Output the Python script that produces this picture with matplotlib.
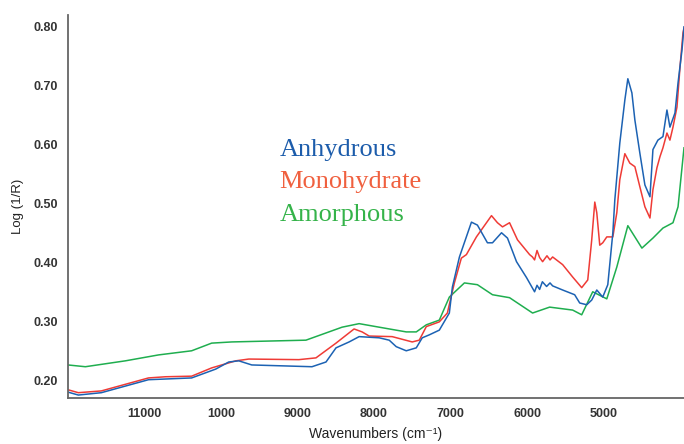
import matplotlib
matplotlib.use("Agg")
import matplotlib.pyplot as plt

# NIR spectra, wavenumber (cm-1) vs log(1/R)
amorph_wn = [12000, 11773, 11249, 10817, 10384, 10122, 9860, 8890, 8418, 8195,
             7933, 7579, 7448, 7317, 7147, 7016, 6819, 6649, 6452, 6229,
             5928, 5705, 5404, 5286, 5142, 4958, 4827, 4683, 4499, 4355,
             4224, 4093, 4027, 3949]
amorph_val = [0.227, 0.224, 0.234, 0.244, 0.251, 0.264, 0.266, 0.269, 0.291, 0.297,
              0.291, 0.283, 0.283, 0.295, 0.303, 0.342, 0.366, 0.363, 0.346, 0.341,
              0.315, 0.325, 0.320, 0.312, 0.351, 0.339, 0.393, 0.463, 0.425, 0.442,
              0.459, 0.468, 0.495, 0.595]

mono_wn = [12000, 11865, 11564, 10948, 10725, 10384, 10122, 9807, 9637, 8982,
           8759, 8497, 8261, 8156, 8064, 7763, 7501, 7409, 7317, 7147,
           7042, 6950, 6859, 6793, 6662, 6465, 6387, 6321, 6229, 6125,
           5967, 5930, 5902, 5870, 5836, 5797, 5740, 5700, 5666, 5535,
           5404, 5286, 5207, 5155, 5115, 5089, 5050, 5011, 4958, 4879,
           4827, 4788, 4722, 4657, 4591, 4526, 4460, 4394, 4355, 4303,
           4263, 4224, 4172, 4133, 4093, 4041, 4001, 3962, 3949]
mono_val = [0.185, 0.180, 0.183, 0.205, 0.207, 0.208, 0.222, 0.234, 0.237, 0.236,
            0.239, 0.264, 0.288, 0.283, 0.276, 0.275, 0.266, 0.269, 0.292, 0.300,
            0.315, 0.366, 0.408, 0.414, 0.444, 0.480, 0.468, 0.461, 0.468, 0.439,
            0.414, 0.410, 0.405, 0.421, 0.409, 0.402, 0.412, 0.405, 0.410, 0.397,
            0.376, 0.358, 0.371, 0.439, 0.503, 0.485, 0.430, 0.434, 0.444, 0.444,
            0.485, 0.541, 0.585, 0.569, 0.563, 0.529, 0.495, 0.476, 0.524, 0.561,
            0.580, 0.595, 0.620, 0.608, 0.630, 0.664, 0.732, 0.790, 0.798]

anhyd_wn = [12000, 11865, 11564, 10948, 10384, 10069, 9899, 9768, 9598, 9073,
            8811, 8628, 8497, 8326, 8195, 7933, 7802, 7710, 7579, 7448,
            7370, 7278, 7147, 7016, 6976, 6884, 6727, 6649, 6518, 6452,
            6334, 6256, 6138, 6007, 5902, 5870, 5836, 5800, 5745, 5700,
            5666, 5535, 5378, 5312, 5220, 5155, 5089, 5011, 4945, 4879,
            4853, 4788, 4722, 4683, 4630, 4591, 4526, 4460, 4394, 4355,
            4290, 4224, 4172, 4133, 4067, 4027, 3975, 3949]
anhyd_val = [0.181, 0.176, 0.180, 0.202, 0.205, 0.220, 0.232, 0.234, 0.227, 0.225,
             0.224, 0.232, 0.256, 0.266, 0.275, 0.273, 0.269, 0.258, 0.251, 0.256,
             0.273, 0.278, 0.286, 0.315, 0.359, 0.410, 0.469, 0.464, 0.434, 0.434,
             0.451, 0.442, 0.402, 0.375, 0.351, 0.362, 0.355, 0.368, 0.360, 0.366,
             0.361, 0.354, 0.346, 0.332, 0.329, 0.337, 0.354, 0.342, 0.363, 0.451,
             0.507, 0.603, 0.676, 0.712, 0.688, 0.642, 0.586, 0.532, 0.512, 0.592,
             0.608, 0.614, 0.659, 0.630, 0.654, 0.705, 0.761, 0.800]

tick_pos = [11000, 10000, 9000, 8000, 7000, 6000, 5000]
tick_lbl = ["11000", "1000", "9000", "8000", "7000", "6000", "5000"]
ytick_pos = [0.20, 0.30, 0.40, 0.50, 0.60, 0.70, 0.80]

plt.rcParams['font.family'] = ['Liberation Sans', 'DejaVu Sans']

fig = plt.figure(figsize=(6.84, 4.44), dpi=100)
ax = fig.add_axes([0.0994, 0.1036, 0.9006, 0.8626])

ax.plot(amorph_wn, amorph_val, color='#1fae4f', lw=1.1)
ax.plot(mono_wn, mono_val, color='#ef3b36', lw=1.1)
ax.plot(anhyd_wn, anhyd_val, color='#1c62b3', lw=1.1)

ax.set_xlim(12000, 3949)
ax.set_ylim(0.171, 0.82)

ax.set_xticks(tick_pos)
ax.set_xticklabels(tick_lbl)
ax.set_yticks(ytick_pos)
ax.set_yticklabels([f"{v:.2f}" for v in ytick_pos])
ax.tick_params(length=0, pad=7, labelsize=9, labelcolor='#333333')
for lbl in ax.get_xticklabels() + ax.get_yticklabels():
    lbl.set_fontweight('bold')

for side in ('top', 'right'):
    ax.spines[side].set_visible(False)
for side in ('left', 'bottom'):
    ax.spines[side].set_color('#666666')
    ax.spines[side].set_linewidth(1.3)

ax.set_xlabel('Wavenumbers (cm\u207b\u00b9)', fontsize=10, color='#222222', labelpad=5)
ax.set_ylabel('Log (1/R)', fontsize=9.5, color='#222222', labelpad=7)

# series names drawn inside the plot area
names = [('Anhydrous', '#1c5cab'), ('Monohydrate', '#f0603f'), ('Amorphous', '#35b34a')]
for i, (txt, col) in enumerate(names):
    ax.text(0.343, 0.647 - i * 0.084, txt, transform=ax.transAxes, color=col,
            fontsize=19, family='Liberation Serif', va='center', ha='left')

fig.savefig('out.png', dpi=100)
